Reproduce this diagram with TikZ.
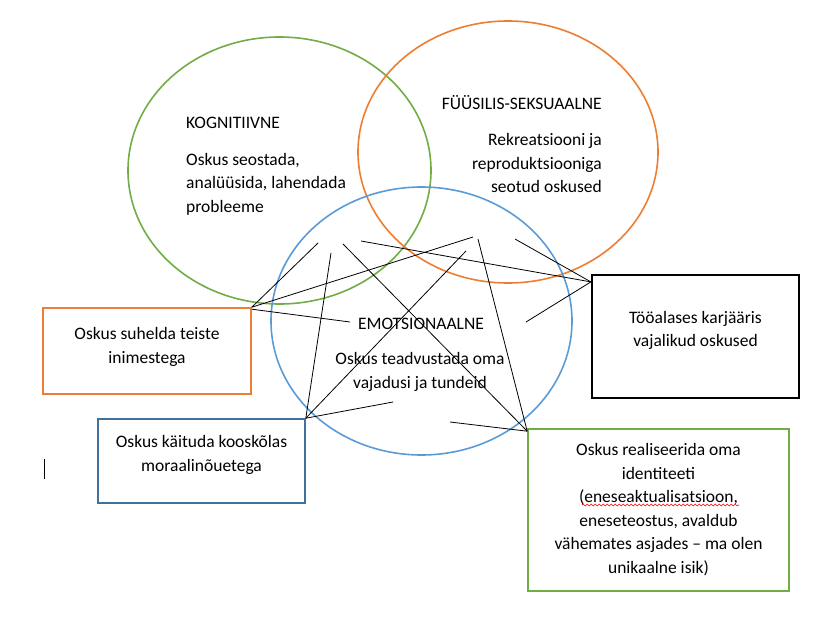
\documentclass[tikz,border=0pt]{standalone}
\usepackage{fontspec}
\setmainfont{Carlito}
\usepackage{tikz}
\usetikzlibrary{positioning}
\usetikzlibrary{decorations.pathmorphing}
\definecolor{kgreen}{RGB}{112,173,71}
\definecolor{korange}{RGB}{237,125,49}
\definecolor{kblue}{RGB}{91,155,213}
\definecolor{kdblue}{RGB}{65,113,156}

\begin{document}
\begin{tikzpicture}[x=1pt,y=-1pt,
  txt/.style={inner sep=0pt,font=\fontsize{17.5}{23.5}\selectfont},
  ring/.style={line width=1.6pt},
  kast/.style={draw=#1,line width=1.6pt,inner sep=0pt},
  joon/.style={line width=0.8pt}]
\useasboundingbox (0,0) rectangle (839,621);
% ringid
\draw[ring,kgreen] (279.5,170.5) ellipse [x radius=151.5pt,y radius=133.5pt];
\draw[ring,korange] (508,152) ellipse [x radius=150pt,y radius=131pt];
\draw[ring,kblue] (421.5,321) ellipse [x radius=150.5pt,y radius=134pt];
\node[txt,anchor=west] (kogn) at (186,123) {KOGNITIIVNE};
\node[txt,anchor=west,align=left] (kogntxt) at (186,184) {Oskus seostada,\\analüüsida, lahendada\\probleeme};
\node[txt,anchor=east] (fyys) at (602,103) {FÜÜSILIS-SEKSUAALNE};
\node[txt,anchor=east,align=right] (fyystxt) at (602,163) {Rekreatsiooni ja\\reproduktsiooniga\\seotud oskused};
\node[txt] (emo) at (421,324) {EMOTSIONAALNE};
\node[txt,align=center] (emotxt) at (420,372) {Oskus teadvustada oma\\vajadusi ja tundeid};
% kastid
\node[kast=korange,minimum width=208,minimum height=86] (suhelda) at (147,351) {};
\node[txt,align=center,below=20pt of suhelda.north] {Oskus suhelda teiste\\inimestega};
\node[kast=kdblue,minimum width=207,minimum height=84] (kaituda) at (201.5,461) {};
\node[txt,align=center,below=17pt of kaituda.north] {Oskus käituda kooskõlas\\moraalinõuetega};
\node[kast=black,line width=2.2pt,minimum width=207,minimum height=123] (too) at (695.5,336.5) {};
\node[txt,align=center,below=37pt of too.north] {Tööalases karjääris\\vajalikud oskused};
\node[kast=kgreen,minimum width=261,minimum height=162] (real) at (658.5,510) {};
\node[txt,align=center,below=15pt of real.north] (realtxt) {Oskus realiseerida oma\\identiteeti\\(eneseaktualisatsioon,\\eneseteostus, avaldub\\vähemates asjades – ma olen\\unikaalne isik)};
% jooned
\coordinate (too0) at ([yshift=-8pt]too.north west);
\coordinate (s1) at (318,243);
\coordinate (s2) at (473,237);
\coordinate (s3) at (350,322);
\coordinate (k1) at (331,253);
\coordinate (k2) at (466,251);
\coordinate (k3) at (393,402);
\coordinate (t1) at (361,241);
\coordinate (t2) at (515,239);
\coordinate (t3) at (526,322);
\coordinate (r1) at (343,244);
\coordinate (r2) at (478,239);
\coordinate (r3) at (450,422);
\draw[joon] (suhelda.north east) -- (s1);
\draw[joon] (suhelda.north east) -- (s2);
\draw[joon] ([yshift=-2pt]suhelda.north east) -- (s3);
\draw[joon] (kaituda.north east) -- (k1);
\draw[joon] (kaituda.north east) -- (k2);
\draw[joon] (kaituda.north east) -- (k3);
\draw[joon] (too0) -- (t1);
\draw[joon] (too0) -- (t2);
\draw[joon] (too0) -- (t3);
\draw[joon] ([yshift=-3pt]real.north west) -- (r1);
\draw[joon] ([yshift=-3pt]real.north west) -- (r2);
\draw[joon] ([yshift=-3pt]real.north west) -- (r3);
% kursor ja kriips
\draw[line width=1pt] (44,459) -- (44,479);
\draw[red,line width=0.6pt,decorate,decoration={snake,amplitude=1pt,segment length=4pt}] (582,505) -- (739,505);
\end{tikzpicture}
\end{document}
